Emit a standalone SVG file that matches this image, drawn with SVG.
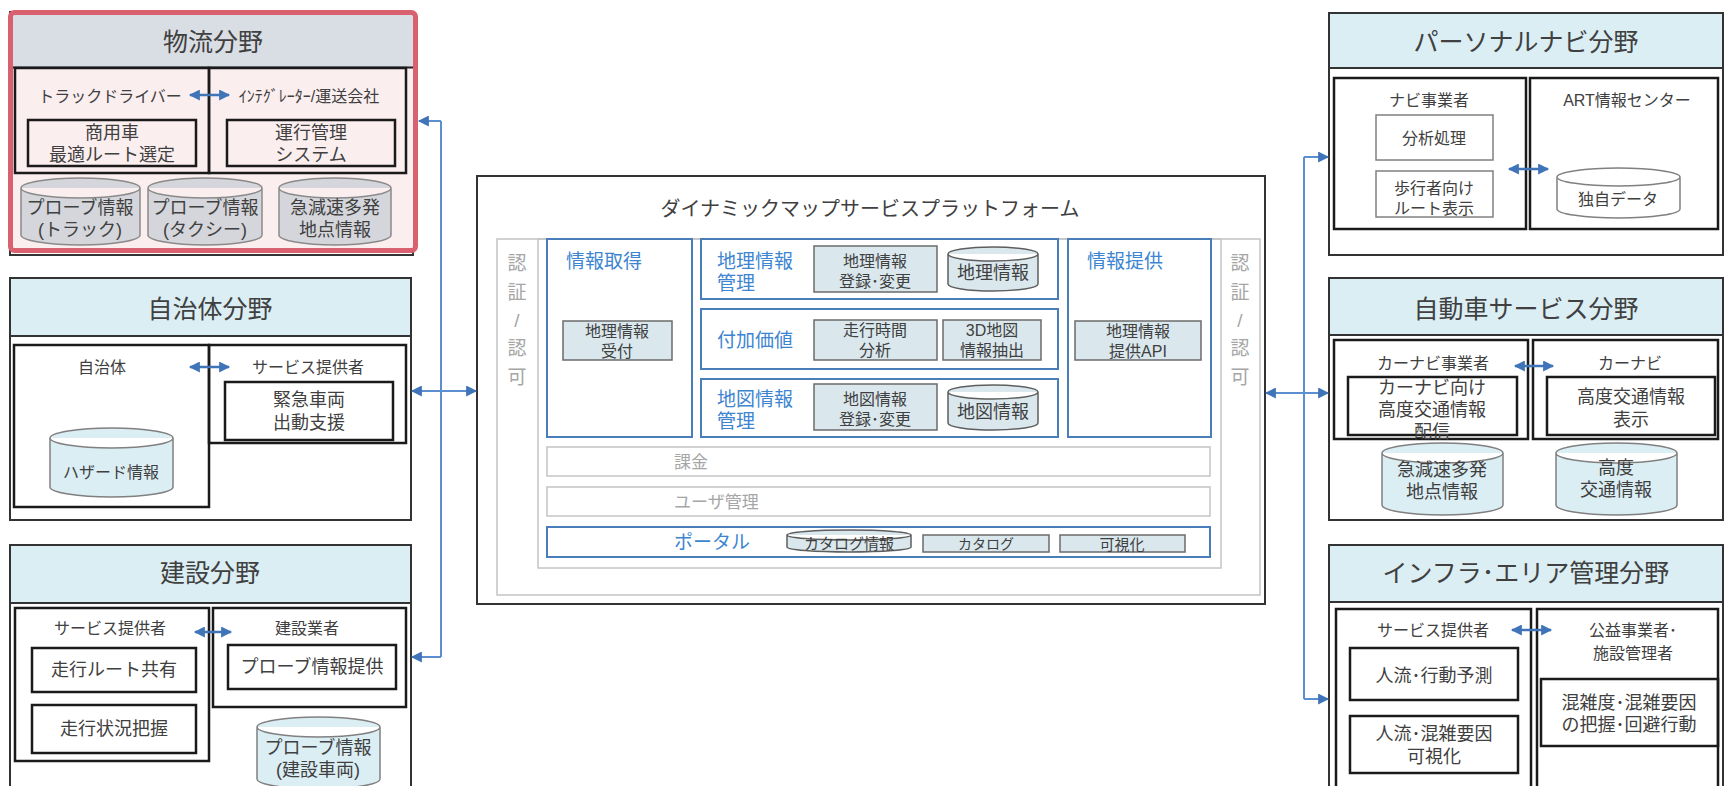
<svg xmlns="http://www.w3.org/2000/svg" width="1725" height="786" viewBox="0 0 1725 786">
<style>
text{font-family:"Liberation Sans","Noto Sans CJK JP",sans-serif;fill:#404040;text-anchor:middle;dominant-baseline:central}
.ttl{font-size:25px}
.lb{font-size:16px}
.bx{font-size:18px}
.sm{font-size:16px}
.bl{fill:#3d85d0;font-size:19px;text-anchor:start}
.gr{fill:#a6a6a6;font-size:17px;text-anchor:start}
.auth{fill:#a6a6a6;font-size:19px}
.panel{fill:#fff;stroke:#333;stroke-width:2}
.hdr{fill:#dbeef4;stroke:#333;stroke-width:2}
.sub{fill:none;stroke:#1a1a1a;stroke-width:2.5}
.gbox{fill:none;stroke:#808080;stroke-width:1.5}
.cyl{fill:#dbeef4;stroke:#808080;stroke-width:1.5}
.cylg{fill:#d4d6db;stroke:#8a8a8a;stroke-width:1.5}
.pbox{fill:#dae8ee;stroke:#6b6b6b;stroke-width:1.5}
.pcyl{fill:#dae8ee;stroke:#5e5e5e;stroke-width:1.5}
.blue{fill:#fff;stroke:#4a7ebb;stroke-width:2}
.gfr{fill:none;stroke:#c4c4c4;stroke-width:1.5}
.con{fill:none;stroke:#5b8fd0;stroke-width:2}
.arr{fill:none;stroke:#3f74b8;stroke-width:2.5}
</style>
<defs>
<marker id="ah" viewBox="0 0 10 10" refX="9" refY="5" markerWidth="12" markerHeight="11" markerUnits="userSpaceOnUse" orient="auto-start-reverse"><path d="M0,0 L10,5 L0,10 z" fill="#3f74b8"/></marker>
</defs>

<!-- 物流分野 -->
<g id="butsuryu">
<rect x="10" y="12" width="403" height="243" class="panel" stroke="#222"/>
<rect x="12.5" y="12.5" width="403" height="238" fill="#fbeeef"/>
<rect x="13" y="15" width="400" height="52" fill="#d9dde4"/>
<line x1="13" y1="67.5" x2="413" y2="67.5" stroke="#222" stroke-width="2"/>
<rect x="15" y="68" width="194" height="105" class="sub"/>
<rect x="209" y="68" width="197" height="105" class="sub"/>
<text x="213" y="42" class="ttl">物流分野</text>
<text x="110" y="96" class="lb">トラックドライバー</text>
<text x="309" y="96" class="lb">ｲﾝﾃｸﾞﾚｰﾀｰ/運送会社</text>
<path d="M190,95 H229" class="arr" marker-start="url(#ah)" marker-end="url(#ah)"/>
<rect x="28" y="120" width="168" height="46" class="sub"/>
<text class="bx"><tspan x="112" y="133">商用車</tspan><tspan x="112" y="155">最適ルート選定</tspan></text>
<rect x="227" y="120" width="168" height="46" class="sub"/>
<text class="bx"><tspan x="311" y="133">運行管理</tspan><tspan x="311" y="155">システム</tspan></text>
<path d="M21,188 a59.5,10 0 0 1 119,0 v47 a59.5,10 0 0 1 -119,0 z M21,188 a59.5,10 0 0 0 119,0" class="cylg"/>
<text class="bx"><tspan x="80" y="208">プローブ情報</tspan><tspan x="80" y="230">(トラック)</tspan></text>
<path d="M148,188 a57,10 0 0 1 114,0 v47 a57,10 0 0 1 -114,0 z M148,188 a57,10 0 0 0 114,0" class="cylg"/>
<text class="bx"><tspan x="205" y="208">プローブ情報</tspan><tspan x="205" y="230">(タクシー)</tspan></text>
<path d="M279,188 a56,10 0 0 1 112,0 v47 a56,10 0 0 1 -112,0 z M279,188 a56,10 0 0 0 112,0" class="cylg"/>
<text class="bx"><tspan x="335" y="208">急減速多発</tspan><tspan x="335" y="230">地点情報</tspan></text>
<rect x="10.5" y="12.5" width="405" height="238" rx="4" fill="none" stroke="#d9606e" stroke-width="5"/>
</g>

<!-- 自治体分野 -->
<g id="jichitai">
<rect x="10" y="278" width="401" height="242" class="panel"/>
<rect x="10" y="278" width="401" height="58" class="hdr"/>
<text x="210" y="309" class="ttl">自治体分野</text>
<rect x="14" y="345" width="195" height="162" class="sub"/>
<rect x="209" y="345" width="197" height="98" class="sub"/>
<text x="102" y="367" class="lb">自治体</text>
<text x="308" y="367" class="lb">サービス提供者</text>
<path d="M190,367 H229" class="arr" marker-start="url(#ah)" marker-end="url(#ah)"/>
<rect x="225" y="382" width="168" height="58" class="sub"/>
<text class="bx"><tspan x="309" y="400">緊急車両</tspan><tspan x="309" y="423">出動支援</tspan></text>
<path d="M50,438 a61.5,10 0 0 1 123,0 v49 a61.5,10 0 0 1 -123,0 z M50,438 a61.5,10 0 0 0 123,0" class="cyl"/>
<text x="111" y="472" class="sm">ハザード情報</text>
</g>

<!-- 建設分野 -->
<g id="kensetsu">
<rect x="10" y="545" width="401" height="260" class="panel"/>
<rect x="10" y="545" width="401" height="58" class="hdr"/>
<text x="210" y="573" class="ttl">建設分野</text>
<rect x="15" y="608" width="194" height="153" class="sub"/>
<rect x="213" y="608" width="193" height="99" class="sub"/>
<text x="110" y="628" class="lb">サービス提供者</text>
<text x="307" y="628" class="lb">建設業者</text>
<path d="M195,632 H231" class="arr" marker-start="url(#ah)" marker-end="url(#ah)"/>
<rect x="32" y="648" width="164" height="44" class="sub"/>
<text x="114" y="670" class="bx">走行ルート共有</text>
<rect x="32" y="705" width="164" height="48" class="sub"/>
<text x="114" y="729" class="bx">走行状況把握</text>
<rect x="228" y="645" width="168" height="44" class="sub"/>
<text x="312" y="667" class="bx">プローブ情報提供</text>
<path d="M257,727 a61.5,10 0 0 1 123,0 v52 a61.5,10 0 0 1 -123,0 z M257,727 a61.5,10 0 0 0 123,0" class="cyl"/>
<text class="bx"><tspan x="318" y="748">プローブ情報</tspan><tspan x="318" y="770">(建設車両)</tspan></text>
</g>

<!-- プラットフォーム -->
<g id="platform">
<rect x="477" y="176" width="788" height="428" class="panel" stroke="#222"/>
<text x="870" y="209" font-size="20">ダイナミックマップサービスプラットフォーム</text>
<rect x="497" y="239" width="763" height="356" class="gfr"/>
<rect x="538" y="239" width="683" height="329" class="gfr"/>
<text class="auth"><tspan x="517" y="263">認</tspan><tspan x="517" y="292">証</tspan><tspan x="517" y="320">/</tspan><tspan x="517" y="348">認</tspan><tspan x="517" y="377">可</tspan></text>
<text class="auth"><tspan x="1240" y="263">認</tspan><tspan x="1240" y="292">証</tspan><tspan x="1240" y="320">/</tspan><tspan x="1240" y="348">認</tspan><tspan x="1240" y="377">可</tspan></text>
<g id="joho-shutoku">
<rect x="547" y="239" width="145" height="198" class="blue"/>
<text x="566" y="261" class="bl">情報取得</text>
<rect x="563" y="321" width="109" height="39" class="pbox"/>
<text class="sm"><tspan x="617" y="331">地理情報</tspan><tspan x="617" y="351">受付</tspan></text>
</g>
<g id="chiri-kanri">
<rect x="701" y="239" width="357" height="60" class="blue"/>
<text class="bl"><tspan x="717" y="261">地理情報</tspan><tspan x="717" y="283">管理</tspan></text>
<rect x="814" y="246" width="123" height="46" class="pbox"/>
<text class="sm"><tspan x="875" y="261">地理情報</tspan><tspan x="875" y="281">登録･変更</tspan></text>
<path d="M948,254 a45,7 0 0 1 90,0 v30 a45,7 0 0 1 -90,0 z M948,254 a45,7 0 0 0 90,0" class="pcyl"/>
<text x="993" y="273" font-size="18">地理情報</text>
</g>
<g id="fuka-kachi">
<rect x="701" y="309" width="357" height="60" class="blue"/>
<text x="717" y="340" class="bl">付加価値</text>
<rect x="814" y="320" width="123" height="40" class="pbox"/>
<text class="sm"><tspan x="875" y="330">走行時間</tspan><tspan x="875" y="350">分析</tspan></text>
<rect x="943" y="320" width="98" height="40" class="pbox"/>
<text class="sm"><tspan x="992" y="330">3D地図</tspan><tspan x="992" y="350">情報抽出</tspan></text>
</g>
<g id="chizu-kanri">
<rect x="701" y="379" width="357" height="58" class="blue"/>
<text class="bl"><tspan x="717" y="399">地図情報</tspan><tspan x="717" y="421">管理</tspan></text>
<rect x="814" y="384" width="123" height="46" class="pbox"/>
<text class="sm"><tspan x="875" y="399">地図情報</tspan><tspan x="875" y="419">登録･変更</tspan></text>
<path d="M948,392 a45,7 0 0 1 90,0 v31 a45,7 0 0 1 -90,0 z M948,392 a45,7 0 0 0 90,0" class="pcyl"/>
<text x="993" y="412" font-size="18">地図情報</text>
</g>
<g id="joho-teikyo">
<rect x="1068" y="239" width="143" height="198" class="blue"/>
<text x="1087" y="261" class="bl">情報提供</text>
<rect x="1075" y="321" width="126" height="39" class="pbox"/>
<text class="sm"><tspan x="1138" y="331">地理情報</tspan><tspan x="1138" y="351">提供API</tspan></text>
</g>
<g id="kakin">
<rect x="547" y="447" width="663" height="29" class="gfr"/>
<text x="674" y="462" class="gr">課金</text>
</g>
<g id="user-kanri">
<rect x="547" y="487" width="663" height="29" class="gfr"/>
<text x="674" y="502" class="gr">ユーザ管理</text>
</g>
<g id="portal">
<rect x="547" y="527" width="663" height="30" class="blue"/>
<text x="674" y="542" class="bl" font-size="17">ポータル</text>
<path d="M787,535 a62,5 0 0 1 124,0 v12 a62,5 0 0 1 -124,0 z M787,535 a62,5 0 0 0 124,0" class="pcyl"/>
<text x="849" y="543" font-size="15">カタログ情報</text>
<rect x="923" y="535" width="126" height="17" class="pbox"/>
<text x="986" y="544" font-size="14">カタログ</text>
<rect x="1060" y="535" width="125" height="17" class="pbox"/>
<text x="1122" y="544" font-size="15">可視化</text>
</g>
</g>

<!-- パーソナルナビ分野 -->
<g id="personal-navi">
<rect x="1329" y="13" width="394" height="242" class="panel"/>
<rect x="1329" y="13" width="394" height="55" class="hdr"/>
<text x="1526" y="42" class="ttl">パーソナルナビ分野</text>
<rect x="1334" y="78" width="192" height="151" class="sub"/>
<rect x="1530" y="78" width="188" height="151" class="sub"/>
<text x="1429" y="100" class="lb" font-size="17">ナビ事業者</text>
<text x="1627" y="100" class="lb" font-size="17">ART情報センター</text>
<rect x="1376" y="115" width="117" height="45" class="gbox"/>
<text x="1434" y="138" class="sm">分析処理</text>
<rect x="1376" y="171" width="117" height="46" class="gbox"/>
<text class="sm"><tspan x="1434" y="188">歩行者向け</tspan><tspan x="1434" y="208">ルート表示</tspan></text>
<path d="M1509,169 H1548" class="arr" marker-start="url(#ah)" marker-end="url(#ah)"/>
<path d="M1557,177 a61.5,9 0 0 1 123,0 v32 a61.5,9 0 0 1 -123,0 z M1557,177 a61.5,9 0 0 0 123,0" fill="#fff" stroke="#808080" stroke-width="1.5"/>
<text x="1618" y="199" class="sm" font-size="17">独自データ</text>
</g>

<!-- 自動車サービス分野 -->
<g id="jidosha">
<rect x="1329" y="278" width="394" height="242" class="panel"/>
<rect x="1329" y="278" width="394" height="57" class="hdr"/>
<text x="1526" y="309" class="ttl">自動車サービス分野</text>
<rect x="1334" y="340" width="194" height="99" class="sub"/>
<rect x="1533" y="340" width="185" height="99" class="sub"/>
<text x="1433" y="363" class="lb" font-size="17">カーナビ事業者</text>
<text x="1630" y="363" class="lb" font-size="17">カーナビ</text>
<path d="M1515,366 H1553" class="arr" marker-start="url(#ah)" marker-end="url(#ah)"/>
<rect x="1348" y="377" width="169" height="58" class="sub"/>
<text class="bx"><tspan x="1432" y="388">カーナビ向け</tspan><tspan x="1432" y="410">高度交通情報</tspan><tspan x="1432" y="432">配信</tspan></text>
<rect x="1547" y="377" width="168" height="58" class="sub"/>
<text class="bx"><tspan x="1631" y="397">高度交通情報</tspan><tspan x="1631" y="420">表示</tspan></text>
<path d="M1382,453 a60.5,10 0 0 1 121,0 v52 a60.5,10 0 0 1 -121,0 z M1382,453 a60.5,10 0 0 0 121,0" class="cyl"/>
<text class="bx"><tspan x="1442" y="470">急減速多発</tspan><tspan x="1442" y="492">地点情報</tspan></text>
<path d="M1556,453 a60.5,10 0 0 1 121,0 v52 a60.5,10 0 0 1 -121,0 z M1556,453 a60.5,10 0 0 0 121,0" class="cyl"/>
<text class="bx"><tspan x="1616" y="468">高度</tspan><tspan x="1616" y="490">交通情報</tspan></text>
</g>

<!-- インフラ・エリア管理分野 -->
<g id="infra">
<rect x="1329" y="545" width="394" height="260" class="panel"/>
<rect x="1329" y="545" width="394" height="57" class="hdr"/>
<text x="1526" y="573" class="ttl">インフラ･エリア管理分野</text>
<rect x="1336" y="609" width="195" height="190" class="sub"/>
<rect x="1537" y="609" width="181" height="190" class="sub"/>
<text x="1433" y="630" class="lb" font-size="17">サービス提供者</text>
<text class="lb" font-size="17"><tspan x="1633" y="630">公益事業者･</tspan><tspan x="1633" y="653">施設管理者</tspan></text>
<path d="M1512,630 H1551" class="arr" marker-start="url(#ah)" marker-end="url(#ah)"/>
<rect x="1350" y="648" width="168" height="52" class="sub"/>
<text x="1434" y="676" class="bx">人流･行動予測</text>
<rect x="1350" y="716" width="168" height="57" class="sub"/>
<text class="bx"><tspan x="1434" y="734">人流･混雑要因</tspan><tspan x="1434" y="757">可視化</tspan></text>
<rect x="1541" y="679" width="177" height="67" class="sub"/>
<text class="bx"><tspan x="1629" y="703">混雑度･混雑要因</tspan><tspan x="1629" y="725">の把握･回避行動</tspan></text>
</g>

<!-- connectors -->
<g id="connectors">
<path d="M441,121 V657" class="con"/>
<path d="M441,121 H419" class="con" marker-end="url(#ah)"/>
<path d="M441,657 H412" class="con" marker-end="url(#ah)"/>
<path d="M412,391 H476" class="con" marker-start="url(#ah)" marker-end="url(#ah)"/>
<path d="M1304,157 V699" class="con"/>
<path d="M1304,157 H1328" class="con" marker-end="url(#ah)"/>
<path d="M1304,699 H1328" class="con" marker-end="url(#ah)"/>
<path d="M1266,393 H1328" class="con" marker-start="url(#ah)" marker-end="url(#ah)"/>
</g>
</svg>
